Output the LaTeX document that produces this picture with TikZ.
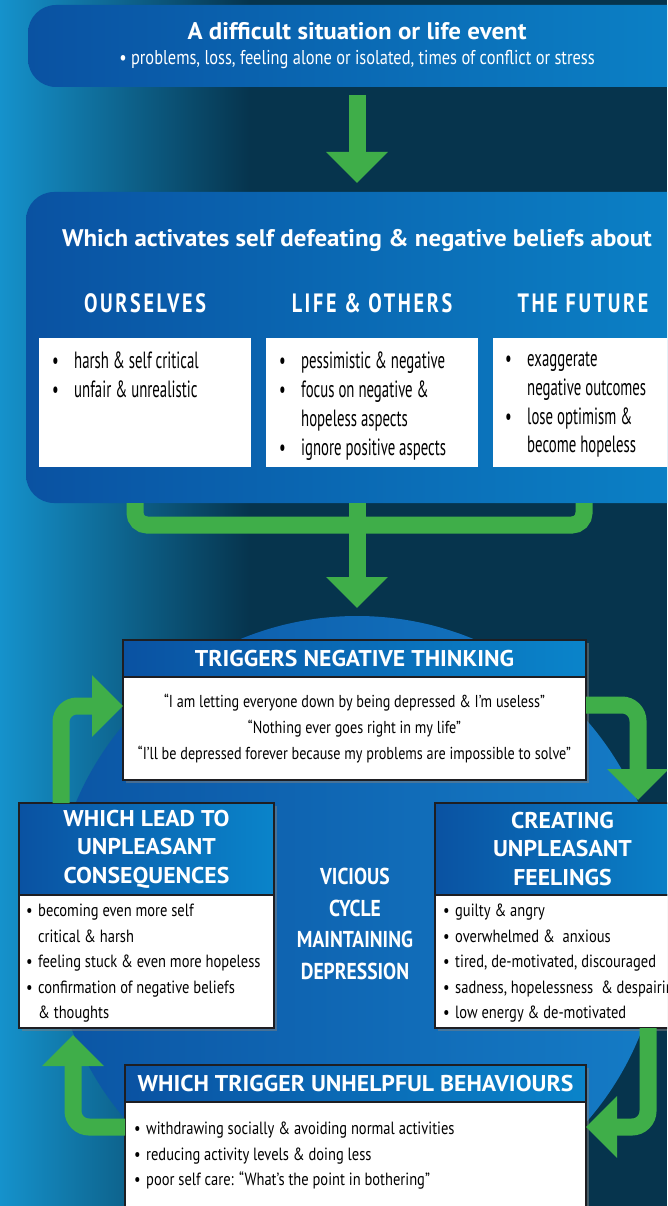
\documentclass[tikz,border=0pt]{standalone}
\usepackage{fontspec}
\setmainfont{PT Sans}
\newfontfamily\bodyfont{PT Sans}[FakeStretch=0.82]
\newfontfamily\listfont{PT Sans}[FakeStretch=0.63]
\newfontfamily\titlefont{PT Sans}[FakeStretch=1.04]
\newfontfamily\capsfont{PT Sans}[FakeStretch=0.76, LetterSpace=10]
\newfontfamily\heavyfont{PT Sans}[FakeStretch=0.85]
\usetikzlibrary{positioning, arrows.meta, shadows}

\definecolor{bgL}{HTML}{1592CC}
\definecolor{bgD}{HTML}{06344D}
\definecolor{panelL}{HTML}{0A52A2}
\definecolor{panelR}{HTML}{0B84C8}
\definecolor{headL}{HTML}{0A52A2}
\definecolor{headR}{HTML}{0A84CA}
\definecolor{circL}{HTML}{0B55A4}
\definecolor{circR}{HTML}{157CC6}
\definecolor{frame}{HTML}{1E1E22}
\definecolor{arrowgreen}{HTML}{3FAE49}

% bullet lines
\newcommand{\bl}{\makebox[22pt][l]{\textbullet}}
\newcommand{\bi}{\hspace*{22pt}}
\newcommand{\cl}{\makebox[12pt][l]{\textbullet}}
\newcommand{\ci}{\hspace*{12pt}}

\begin{document}
\begin{tikzpicture}[x=1pt, y=1pt,
        panel/.style = {rounded corners=28pt, left color=panelL, right color=panelR, anchor=north west, inner sep=0pt, outer sep=0pt},%
        listbox/.style = {fill=white, anchor=north west, minimum width=212pt, minimum height=129pt, inner sep=0pt},%
        listtext/.style = {anchor=north west, align=left, inner sep=0pt, font=\listfont\fontsize{23.5}{28.7}\selectfont},%
        caps/.style = {text=white, font=\capsfont\bfseries\fontsize{26.5}{30}\selectfont},%
        cyclehead/.style = {draw=frame, line width=1.3pt, left color=headL, right color=headR, text=white, align=center, inner sep=0pt, outer sep=0pt, font=\titlefont\bfseries\fontsize{22.8}{28.5}\selectfont, drop shadow={opacity=.5, shadow xshift=3pt, shadow yshift=-3pt}},%
        cyclebody/.style = {draw=frame, line width=1.3pt, fill=white, inner sep=0pt, outer sep=0pt, font=\bodyfont\fontsize{17.3}{26}\selectfont, drop shadow={opacity=.5, shadow xshift=3pt, shadow yshift=-3pt}},%
        bodytext/.style = {anchor=west, align=left, inner sep=0pt, font=\bodyfont\fontsize{17.7}{25.5}\selectfont},%
        greenbar/.style = {draw=arrowgreen, line width=17pt, rounded corners=16pt},%
        greenarrow/.style = {greenbar, -{Triangle[length=31pt, width=60pt]}}%
    ]%
    \useasboundingbox (0,0) rectangle (667,-1206);
    \path[clip] (0,0) rectangle (667,-1206);
    % background
    \fill[bgD] (0,0) rectangle (667,-1206);
    \shade[left color=bgL, right color=bgD] (0,0) rectangle (250,-1206);
    \shade[left color=circL, right color=circR] (357,-921) circle (305);

    % situation and beliefs
    \node[panel, minimum width=700pt, minimum height=82pt] (event) at (28,-5) {};
    \node[text=white, font=\titlefont\bfseries\fontsize{24}{28}\selectfont] (eventtitle) at (357,-31) {A difficult situation or life event};
    \node[text=white, font=\bodyfont\fontsize{20}{24}\selectfont] (eventtext) at (357,-60) {\textbullet\ problems, loss, feeling alone or isolated, times of conflict or stress};

    \node[panel, minimum width=700pt, minimum height=311pt] (beliefs) at (26,-192) {};
    \node[text=white, font=\titlefont\bfseries\fontsize{24}{28}\selectfont] (beliefstitle) at (357,-240) {Which activates self defeating \& negative beliefs about};

    \node[caps] (ourselves) at (145,-303) {OURSELVES};
    \node[caps] (others) at (372,-303) {LIFE \& OTHERS};
    \node[caps] (future) at (583,-303) {THE FUTURE};

    \node[listbox] (selfbox) at (39,-338) {};
    \node[listbox] (othersbox) at (266,-338) {};
    \node[listbox] (futurebox) at (493,-338) {};
    \node[listtext] (selftext) at ([xshift=13pt, yshift=-14pt]selfbox.north west) {\bl harsh \& self critical\\ \bl unfair \& unrealistic};
    \node[listtext] (otherstext) at ([xshift=13pt, yshift=-14pt]othersbox.north west) {\bl pessimistic \& negative\\ \bl focus on negative \&\\ \bi hopeless aspects\\ \bl ignore positive aspects};
    \node[listtext] (futuretext) at ([xshift=12pt, yshift=-14pt]futurebox.north west) {\bl exaggerate\\ \bi negative outcomes\\ \bl lose optimism \&\\ \bi become hopeless};

    % green links
    \coordinate (bkl) at (135,-525);
    \coordinate (bkr) at (584,-525);
    \draw[greenarrow, shorten <=8pt, shorten >=9pt] (event.south -| eventtitle) -- (beliefs.north -| eventtitle);
    \draw[greenbar, rounded corners=12pt] (beliefs.south -| bkl) -- (bkl) -- (bkr) -- (beliefs.south -| bkr);
    \draw[greenarrow, shorten >=32pt] (beliefs.south -| beliefstitle) -- (357,-640);

    % cycle boxes
    \node[cyclehead, minimum width=463pt, minimum height=37pt, anchor=north west] (thinkhead) at (123,-640) {TRIGGERS NEGATIVE THINKING};
    \node[cyclebody, minimum width=463pt, minimum height=103pt, below=0pt of thinkhead, align=center] (thinkbody) {“I am letting everyone down by being depressed \& I’m useless”\\ “Nothing ever goes right in my life”\\ “I’ll be depressed forever because my problems are impossible to solve”};

    \node[cyclehead, minimum width=255pt, minimum height=92pt, anchor=north west] (feelhead) at (435,-803) {CREATING\\ UNPLEASANT\\ FEELINGS};
    \node[cyclebody, minimum width=255pt, minimum height=133pt, below=0pt of feelhead] (feelbody) {};
    \node[bodytext] (feeltext) at ([xshift=8pt, yshift=-2pt]feelbody.west) {\cl guilty \& angry\\ \cl overwhelmed \&\ \ anxious\\ \cl tired, de-motivated, discouraged\\ \cl sadness, hopelessness\ \ \& despairing\\ \cl low energy \& de-motivated};

    \node[cyclehead, minimum width=461pt, minimum height=37pt, anchor=north west] (behhead) at (125,-1065) {WHICH TRIGGER UNHELPFUL BEHAVIOURS};
    \node[cyclebody, minimum width=461pt, minimum height=110pt, below=0pt of behhead] (behbody) {};
    \node[bodytext] (behtext) at ([xshift=9pt, yshift=1pt]behbody.west) {\cl withdrawing socially \& avoiding normal activities\\ \cl reducing activity levels \& doing less\\ \cl poor self care: “What’s the point in bothering”};

    \node[cyclehead, minimum width=255pt, minimum height=92pt, anchor=north west] (conshead) at (19,-803) {WHICH LEAD TO\\ UNPLEASANT\\ CONSEQUENCES};
    \node[cyclebody, minimum width=255pt, minimum height=133pt, below=0pt of conshead] (consbody) {};
    \node[bodytext] (constext) at ([xshift=7pt, yshift=-2pt]consbody.west) {\cl becoming even more self\\ \ci critical \& harsh\\ \cl feeling stuck \& even more hopeless\\ \cl confirmation of negative beliefs\\ \ci \& thoughts};

    \node[text=white, align=center, font=\heavyfont\bfseries\fontsize{23}{31.5}\selectfont] (vicious) at (355,-924) {VICIOUS\\ CYCLE\\ MAINTAINING\\ DEPRESSION};

    % cycle arrows
    \coordinate (rt) at (638,-705);
    \coordinate (rb) at (648,-1127);
    \coordinate (lb) at (73,-1127);
    \coordinate (lt) at (61,-706);
    \draw[greenarrow, shorten >=3pt] (thinkbody.east |- rt) -- (rt) -- (rt |- feelhead.north);
    \draw[greenarrow] (feelbody.south -| rb) -- (rb) -- (behbody.east |- rb);
    \draw[greenarrow, shorten >=7pt] (behbody.west |- lb) -- (lb) -- (lb |- consbody.south);
    \draw[greenarrow] (conshead.north -| lt) -- (lt) -- (thinkbody.west |- lt);
\end{tikzpicture}
\end{document}
